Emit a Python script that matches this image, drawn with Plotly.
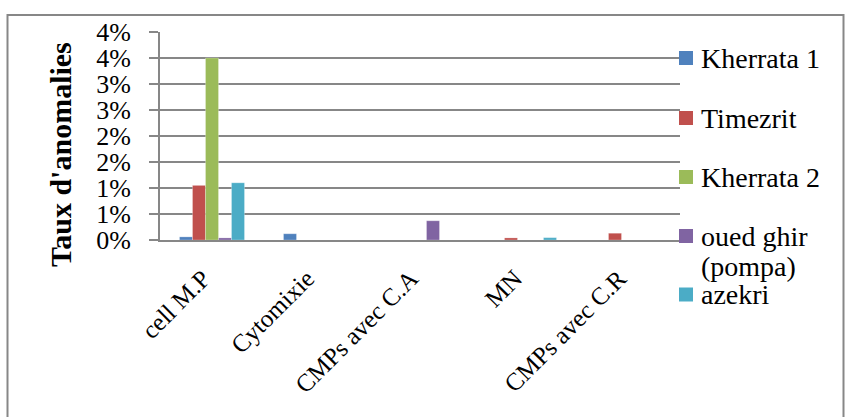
import plotly.graph_objects as go

# Anomaly rates (%) per category and site
categories = ["cell M.P", "Cytomixie", "CMPs avec C.A", "MN", "CMPs avec C.R"]
series_names = ["Kherrata 1", "Timezrit", "Kherrata 2", "oued ghir<br>(pompa)", "azekri"]
kherrata_1 = [0.06, 0.12, 0.0, 0.0, 0.0]
timezrit = [1.05, 0.0, 0.0, 0.04, 0.13]
kherrata_2 = [3.5, 0.0, 0.0, 0.0, 0.0]
oued_ghir = [0.04, 0.0, 0.37, 0.0, 0.0]
azekri = [1.1, 0.0, 0.0, 0.045, 0.0]
series_values = [kherrata_1, timezrit, kherrata_2, oued_ghir, azekri]

tick_vals = [0, 0.5, 1, 1.5, 2, 2.5, 3, 3.5, 4]
tick_text = ["0%", "1%", "1%", "2%", "2%", "3%", "3%", "4%", "4%"]

colors = ["#4F81BD", "#C0504D", "#9BBB59", "#8064A2", "#4BACC6"]

W, H = 853, 417
ML, MR, MT, MB = 160, 173, 32, 177
PW, PH = W - ML - MR, H - MT - MB

def xp(px):
    return (px - ML) / PW

def yp(py):
    return (H - MB - py) / PH

GRID = "#878787"
FONT = "Liberation Serif"

fig = go.Figure()
for name, vals, col in zip(series_names, series_values, colors):
    fig.add_trace(go.Bar(
        x=categories, y=vals, name=name.replace("<br>", " "),
        marker=dict(color=col, line=dict(color="rgba(255,255,255,0.5)", width=0.5)),
        showlegend=False,
    ))

shapes = []
annotations = []

# outer chart frame
shapes.append(dict(type="rect", xref="paper", yref="paper",
                   x0=xp(7.5), x1=xp(843.5), y0=yp(430), y1=yp(15),
                   line=dict(color=GRID, width=2), fillcolor="rgba(0,0,0,0)", layer="below"))

# legend on the right: square swatch + label, wrapped labels drawn line by line
legend_y = [58, 118, 177, 236, 294.5]
LINE_STEP = 30
for name, col, cy in zip(series_names, colors, legend_y):
    shapes.append(dict(type="rect", xref="paper", yref="paper",
                       x0=xp(679), x1=xp(693), y0=yp(cy + 7), y1=yp(cy - 7),
                       line=dict(width=0), fillcolor=col, layer="above"))
    for i, line in enumerate(name.split("<br>")):
        annotations.append(dict(xref="paper", yref="paper", x=xp(699), y=yp(cy + i * LINE_STEP),
                                xanchor="left", yanchor="middle", text=line, showarrow=False,
                                align="left", font=dict(family=FONT, size=28, color="black")))

# y axis title
annotations.append(dict(xref="paper", yref="paper", x=xp(60), y=yp(155),
                        xanchor="center", yanchor="middle", textangle=-90,
                        text="<b>Taux d'anomalies</b>", showarrow=False,
                        font=dict(family=FONT, size=30, color="black")))

fig.update_layout(
    width=W, height=H,
    margin=dict(l=ML, r=MR, t=MT, b=MB, pad=0),
    paper_bgcolor="white", plot_bgcolor="white",
    barmode="group", bargap=0.375, bargroupgap=0,
    font=dict(family=FONT, color="black"),
    shapes=shapes, annotations=annotations,
    showlegend=False,
)
fig.update_xaxes(
    tickangle=-45, tickfont=dict(family=FONT, size=25, color="black"),
    showline=True, linecolor=GRID, linewidth=2, showgrid=False,
    ticks="", ticklabelstandoff=12, ticklabelshift=-9, fixedrange=True,
)
fig.update_yaxes(
    range=[0, 4], tickvals=tick_vals, ticktext=tick_text,
    tickfont=dict(family=FONT, size=26, color="black"),
    showgrid=True, gridcolor=GRID, gridwidth=2, zeroline=False,
    showline=True, linecolor=GRID, linewidth=2,
    ticks="outside", ticklen=9, tickcolor=GRID, tickwidth=2,
    ticklabelstandoff=13, fixedrange=True,
)

fig.write_html("out.html")
